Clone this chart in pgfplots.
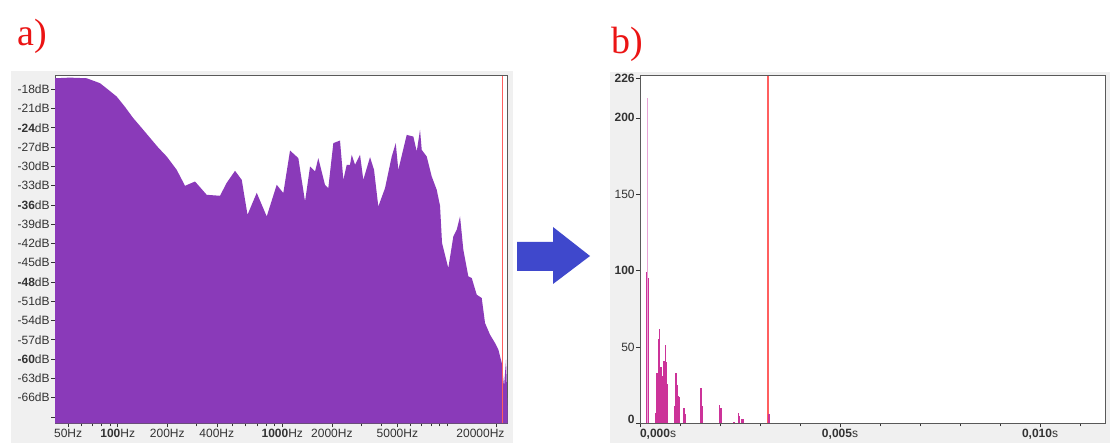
\documentclass[border=0pt]{standalone}
\usepackage{fontspec}
\setmainfont{Liberation Sans}
\newfontfamily\seriffont{Liberation Serif}
\usepackage{pgfplots}
\pgfplotsset{compat=1.18}
\definecolor{specpurple}{RGB}{138,58,185}
\definecolor{barmag}{RGB}{204,51,153}
\definecolor{barpink}{RGB}{232,165,215}
\definecolor{cursorred}{RGB}{255,95,95}
\definecolor{arrowblue}{RGB}{63,72,204}
\definecolor{panelgrey}{RGB}{240,240,240}
\definecolor{labelred}{RGB}{235,20,20}
\begin{document}
\begin{tikzpicture}[x=1pt,y=1pt]
\fill[white] (0pt,0pt) rectangle (1110pt,443pt);
\fill[panelgrey] (11pt,0pt) rectangle (513pt,372pt);
\fill[panelgrey] (610pt,0pt) rectangle (1110pt,371pt);
\node[anchor=base west, text=labelred, font=\seriffont\fontsize{38}{38}\selectfont, inner sep=0pt] at (17pt,397pt) {a)};
\node[anchor=base west, text=labelred, font=\seriffont\fontsize{38}{38}\selectfont, inner sep=0pt] at (611pt,389pt) {b)};
\fill[arrowblue] (517pt,201pt) -- (553pt,201pt) -- (553pt,216pt) -- (590pt,187pt) -- (553pt,159pt) -- (553pt,172pt) -- (517pt,172pt) -- cycle;

\begin{axis}[
  at={(55pt,19.7pt)}, anchor=south west, scale only axis,
  width=452.7pt, height=347.6pt,
  xmode=log, xmin=41.6, xmax=23400, ymin=-70, ymax=-15.9,
  axis background/.style={fill=white},
  axis line style={draw=black!65, line width=0.9pt},
  tick align=outside, xtick pos=bottom, ytick pos=left,
  major tick length=4pt, minor tick length=3pt,
  tick style={black!80, line width=0.6pt},
  ytick={-18,-21,-24,-27,-30,-33,-36,-39,-42,-45,-48,-51,-54,-57,-60,-63,-66,-69},
  yticklabels={-18dB,-21dB,\textbf{-24}dB,-27dB,-30dB,-33dB,\textbf{-36}dB,-39dB,-42dB,-45dB,\textbf{-48}dB,-51dB,-54dB,-57dB,\textbf{-60}dB,-63dB,-66dB,{}},
  xtick={50,100,200,400,1000,2000,5000,20000},
  xticklabels={50Hz,\textbf{100}Hz,200Hz,400Hz,\textbf{1000}Hz,2000Hz,5000Hz,\makebox[0pt][r]{20000Hz\kern-8pt}},
  minor xtick={60,70,80,90,300,500,600,700,800,900,3000,4000,6000,7000,8000,9000,10000},
  ticklabel style={font=\fontsize{12}{13}\selectfont, text=black!80},
  yticklabel style={inner sep=1.2pt},
  xticklabel style={inner sep=1.5pt},
]
\addplot[fill=specpurple, draw=none] coordinates {
(41.6,-70) (41.6,-16.3) (51.3,-16.2) (64.8,-16.3) (78.1,-17.07) (87.3,-18.05)
(98.6,-19.15) (110.7,-20.75) (123.9,-22.46) (139.5,-24.0) (157.1,-25.57)
(175.8,-27.05) (198.5,-28.48) (228.3,-30.55) (256.4,-33.04) (294.9,-32.37)
(347.3,-34.44) (418.3,-34.59) (459.5,-32.57) (516.1,-30.71) (566.9,-32.11)
(614.5,-37.55) (699.2,-34.13) (804.0,-37.81) (924.7,-32.88) (1014,-34.17)
(1114,-27.55) (1251,-28.73) (1374,-35.48) (1474,-30.04) (1580,-30.81)
(1655,-28.73) (1817,-32.88) (1903,-33.40) (2041,-26.40) (2241,-25.99)
(2348,-32.11) (2462,-29.77) (2578,-29.77) (2640,-28.22) (2765,-29.77)
(2966,-28.22) (3105,-32.11) (3411,-28.58) (3607,-30.55) (3830,-36.26)
(4207,-33.40) (4620,-28.48) (4886,-26.40) (5067,-30.55) (5698,-25.11)
(6251,-25.37) (6556,-27.70) (6865,-24.33) (7030,-27.44) (7540,-28.48)
(8087,-31.59) (8670,-33.66) (9080,-36.15) (9338,-41.95) (10197,-45.84)
(10937,-40.92) (11470,-39.88) (12013,-37.81) (12580,-42.99) (13490,-47.14)
(14150,-47.39) (15170,-49.99) (16270,-50.50) (17040,-54.39) (18270,-56.21)
(19600,-57.50) (20530,-58.54) (21530,-60.61) (22230,-64.25) (22860,-60.10)
(23340,-67.36) (23400,-70)
};
\addplot[cursorred, line width=1.3pt] coordinates {(21830,-70) (21830,-15.9)};
\end{axis}

\begin{axis}[
  at={(640pt,19.7pt)}, anchor=south west, scale only axis,
  width=465pt, height=347.6pt,
  xmin=0, xmax=11.625, ymin=0, ymax=227.6,
  axis background/.style={fill=white},
  axis line style={draw=black!65, line width=0.9pt},
  tick align=outside, xtick pos=bottom, ytick pos=left,
  major tick length=4pt, minor tick length=3pt,
  tick style={black!80, line width=0.6pt},
  ytick={0,50,100,150,200,226},
  yticklabels={\raisebox{8pt}{\textbf{0}},50,\textbf{100},150,\textbf{200},\raisebox{-9pt}{\textbf{226}}},
  xtick={0,5,10},
  xticklabels={\rlap{\textbf{0,000}s},\textbf{0,005}s,\textbf{0,010}s},
  minor xtick={1,2,3,4,6,7,8,9,11},
  ticklabel style={font=\fontsize{12}{13}\selectfont, text=black!80},
  yticklabel style={inner sep=1.2pt},
  xticklabel style={inner sep=1.5pt},
]
\addplot[cursorred, line width=1.8pt] coordinates {(3.19,0) (3.19,227.6)};
\addplot[ycomb, barpink, line width=1.5pt] coordinates {(0.1825,213)};
\addplot[ycomb, barmag, line width=1.6pt] coordinates {
(0.165,99) (0.215,95) (0.3825,7) (0.4175,33) (0.4575,55) (0.4825,62)
(0.5175,37) (0.5425,31) (0.5675,25) (0.6,41) (0.6325,51) (0.6575,40)
(0.6825,26) (0.875,11) (0.9,33) (0.9325,25) (0.9575,18) (0.9825,17)
(1.1,10) (1.1325,6) (1.525,23) (1.5575,11) (1.9825,12) (2.0175,10)
(2.35,1) (2.4575,7) (2.4825,5) (2.5425,3) (2.5825,3) (3.225,6)
};
\end{axis}
\end{tikzpicture}
\end{document}
